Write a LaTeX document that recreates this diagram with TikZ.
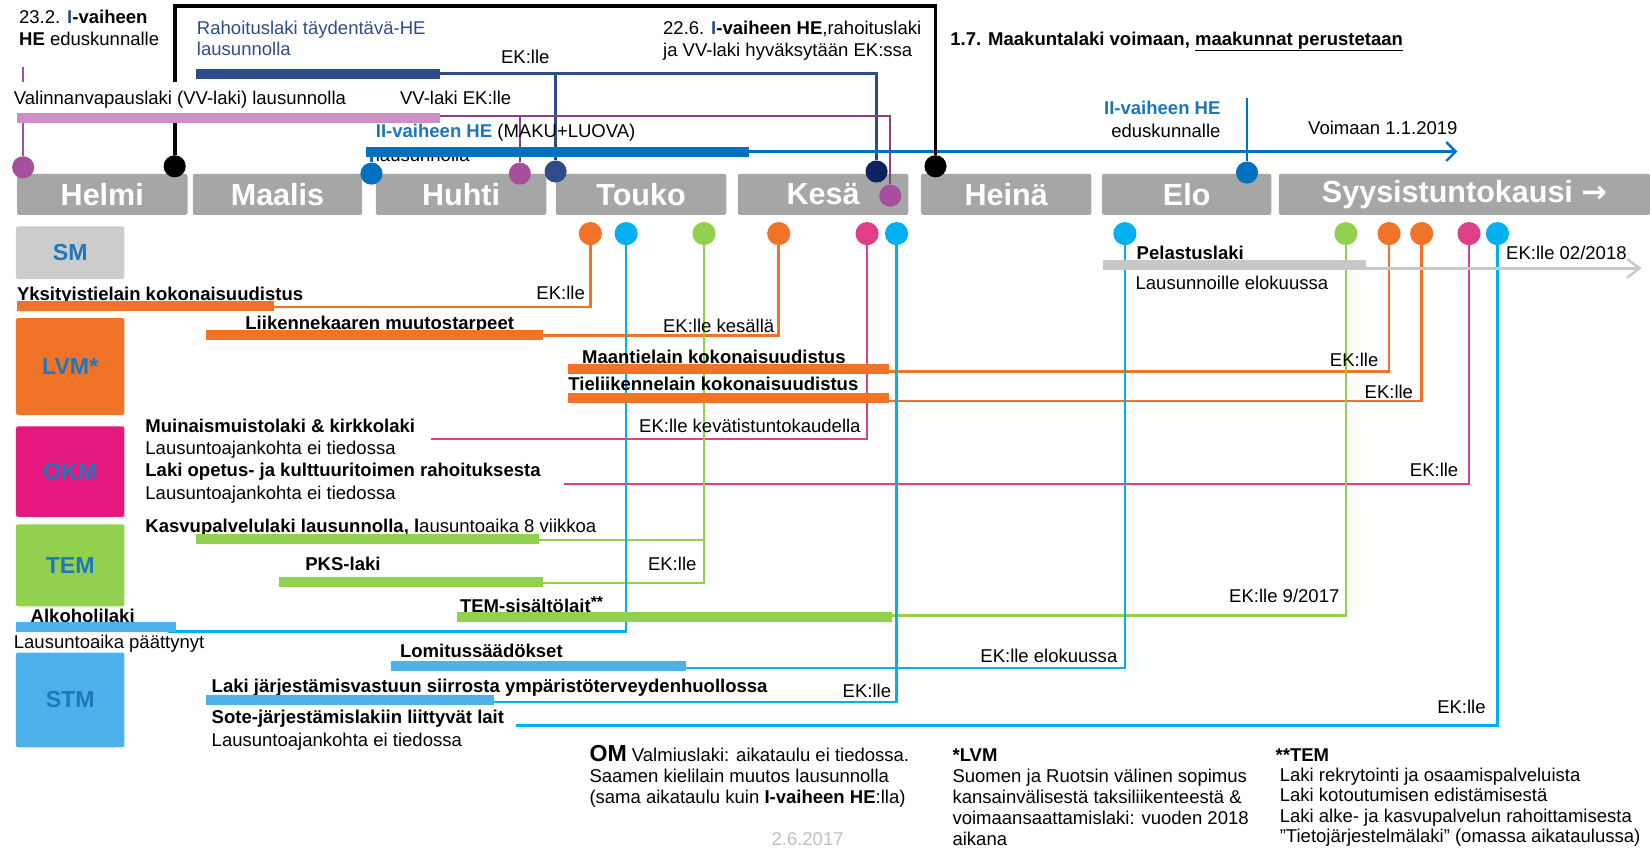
\documentclass[tikz,border=0pt]{standalone}
\usepackage{fontspec}
\setmainfont{Liberation Sans}
\newfontfamily\symfont{DejaVu Sans}
\usetikzlibrary{arrows.meta}

\definecolor{monthgray}{HTML}{A6A6A6}
\definecolor{minblue}{HTML}{1F77BC}
\definecolor{hetext}{HTML}{1C75BC}
\definecolor{navybar}{HTML}{2F4C8A}
\definecolor{navydark}{HTML}{0E2260}
\definecolor{palepink}{HTML}{CC8EC4}
\definecolor{plum}{HTML}{8E3F82}
\definecolor{plumdot}{HTML}{A64F9C}
\definecolor{heblue}{HTML}{0070C0}
\definecolor{lvmorange}{HTML}{F07327}
\definecolor{okmpink}{HTML}{E5197F}
\definecolor{magline}{HTML}{DF3F87}
\definecolor{temgreen}{HTML}{92D050}
\definecolor{stmblue}{HTML}{4DB2EC}
\definecolor{cyanline}{HTML}{00B0F0}
\definecolor{smgray}{HTML}{CCCCCC}
\definecolor{pelgray}{HTML}{C8C8C8}
\definecolor{dategray}{HTML}{BFBFBF}

\tikzset{
  month/.style={anchor=north west, fill=monthgray, text=white, rounded corners=2pt, minimum height=39pt, inner sep=0pt, font=\bfseries\fontsize{29}{30}\selectfont},
  ministry/.style={anchor=north west, minimum width=103pt, rounded corners=2pt, inner sep=0pt, text=minblue, font=\bfseries\fontsize{22}{24}\selectfont},
  dot/.style={circle, fill=#1, minimum size=21pt, inner sep=0pt},
  txt/.style={anchor=base west, inner sep=0pt, font=\fontsize{17.6}{20}\selectfont},
  law/.style={txt, font=\bfseries\fontsize{17.6}{20}\selectfont},
  ek/.style={anchor=base east, inner sep=0pt, font=\fontsize{17.6}{20}\selectfont},
  bar/.style={line width=9.5pt, #1},
  link/.style={line width=2.3pt, #1},
}

\begin{document}
\begin{tikzpicture}[x=1pt, y=-1pt]
\useasboundingbox (0,0) rectangle (1568,805);

% kuukaudet
\node[month, minimum width=162pt] (helmi) at (16,165) {Helmi};
\node[month, minimum width=161pt] (maalis) at (183,165) {Maalis};
\node[month, minimum width=162pt] (huhti) at (357,165) {Huhti};
\node[month, minimum width=162pt] (touko) at (528,165) {Touko};
\node[month, minimum width=162pt] (kesa) at (701,165) {Kesä};
\node[month, minimum width=162pt] (heina) at (875,165) {Heinä};
\node[month, minimum width=161pt] (elo) at (1047,165) {Elo};
\node[month, minimum width=353pt] (syys) at (1215,165) {Syysistuntokausi {\symfont\bfseries →}};

% ministeriot
\node[ministry, fill=smgray, minimum height=50pt] (sm) at (15,215) {SM};
\node[ministry, fill=lvmorange, minimum height=92pt] (lvm) at (15,302) {LVM*};
\node[ministry, fill=okmpink, minimum height=86pt] (okm) at (15,405) {OKM};
\node[ministry, fill=temgreen, minimum height=78pt] (tem) at (15,498) {TEM};
\node[ministry, fill=stmblue, minimum height=90pt] (stm) at (15,620) {STM};

% pallot ylhaalla
\node[dot=plumdot] (dVVa) at (22,159) {};
\node[dot=black] (dHEa) at (166,158) {};
\node[dot=heblue] (dMaku) at (353,165) {};
\node[dot=plumdot] (dVVb) at (494,165) {};
\node[dot=navybar] (dRaha) at (528,163) {};
\node[dot=navydark] (dRahb) at (833,163) {};
\node[dot=plumdot] (dVVc) at (846,186) {};
\node[dot=black] (dHEb) at (889,158) {};
\node[dot=heblue] (dHEc) at (1185,164) {};

% pallot kuukausien alla
\tikzset{dot/.append style={minimum size=22pt}}
\node[dot=lvmorange] (dYks) at (561,222) {};
\node[dot=cyanline] (dAlko) at (595,222) {};
\node[dot=temgreen] (dKasvu) at (669,222) {};
\node[dot=lvmorange] (dLiik) at (740,222) {};
\node[dot=magline] (dMuin) at (824,222) {};
\node[dot=cyanline] (dYmpa) at (852,222) {};
\node[dot=cyanline] (dLomi) at (1069,222) {};
\node[dot=temgreen] (dTemS) at (1279,222) {};
\node[dot=lvmorange] (dMaan) at (1320,222) {};
\node[dot=lvmorange] (dTiel) at (1351,222) {};
\node[dot=magline] (dOpet) at (1396,222) {};
\node[dot=cyanline] (dSote) at (1423,222) {};

% ylaosan viivat
\coordinate (rahEnd) at (418,70);
\draw[link=navybar] (rahEnd) -| (dRahb);
\draw[link=navybar] (dRaha) -- (dRaha |- rahEnd);
\coordinate (vvEnd) at (410,110);
\coordinate (vvTick) at (22,64);
\draw[link=plum] (vvEnd) -| (dVVc);
\draw[link=plum] (dVVb) -- (dVVb |- vvEnd);
\draw[link=plumdot] (dVVa) -- (vvTick);
\coordinate (makuEnd) at (712,144);
\coordinate (voimaan) at (1385,144);
\coordinate (heTop) at (1185,93);
\draw[link=heblue, -{Straight Barb[length=9pt,width=18pt]}] (makuEnd) -- (voimaan);
\draw[link=heblue] (dMaku) -- (dMaku |- makuEnd);
\draw[link=heblue] (heTop) -- (dHEc);
\coordinate (frameTop) at (0,6);
\draw[line width=3.5pt] (dHEa) |- (frameTop -| dHEb) -- (dHEb);

% lakien viivat
\coordinate (yksEnd) at (260,292);
\coordinate (liikEnd) at (516,319);
\coordinate (maanEnd) at (845,353);
\coordinate (tielEnd) at (845,381);
\coordinate (muinStart) at (410,417);
\coordinate (opetStart) at (536,460);
\coordinate (kasvuEnd) at (512,513);
\coordinate (pksEnd) at (516,554);
\coordinate (temEnd) at (848,585);
\coordinate (alkoEnd) at (160,600);
\coordinate (lomiEnd) at (652,635);
\coordinate (ympaEnd) at (469,667);
\coordinate (soteStart) at (490,689);
\coordinate (pelEnd) at (1290,255);
\coordinate (pelArrow) at (1560,255);
\draw[link=lvmorange] (yksEnd) -| (dYks);
\draw[link=lvmorange] (liikEnd) -| (dLiik);
\draw[link=lvmorange] (maanEnd) -| (dMaan);
\draw[link=lvmorange] (tielEnd) -| (dTiel);
\draw[link=magline] (muinStart) -| (dMuin);
\draw[link=magline] (opetStart) -| (dOpet);
\draw[link=temgreen] (kasvuEnd) -| (dKasvu);
\draw[link=temgreen] (pksEnd) -| (dKasvu);
\draw[link=temgreen] (temEnd) -| (dTemS);
\draw[link=cyanline] (alkoEnd) -| (dAlko);
\draw[link=cyanline] (lomiEnd) -| (dLomi);
\draw[link=cyanline] (ympaEnd) -| (dYmpa);
\draw[link=cyanline, line width=2.8pt] (soteStart) -| (dSote);
\draw[link=pelgray, -{Straight Barb[length=12pt,width=18pt]}] (pelEnd) -- (pelArrow);

% tekstit ylhaalla
\node[txt] (t23a) at (18,22) {23.2. \textbf{\textcolor{navybar}{I}-vaiheen}};
\node[txt] (t23b) at (18,43) {\textbf{HE} eduskunnalle};
\node[txt, text=navybar] (tRaha) at (187,33) {Rahoituslaki täydentävä-HE};
\node[txt, text=navybar] (tRahb) at (187,53) {lausunnolla};
\node[txt] (tRahEk) at (476,60) {EK:lle};
\node[txt] (t226a) at (630,33) {22.6. \textbf{\textcolor{navybar}{I}-vaiheen HE},rahoituslaki};
\node[txt] (t226b) at (630,54) {ja VV-laki hyväksytään EK:ssa};
\node[law] (t17) at (903,43) {1.7. Maakuntalaki voimaan, \underline{maakunnat perustetaan}};
\node[txt, fill=white, inner xsep=1pt, inner ysep=8pt] (tVV) at (12,99) {Valinnanvapauslaki (VV-laki) lausunnolla};
\node[txt] (tVVek) at (380,99) {VV-laki EK:lle};
\node[txt] (tMaku) at (357,131) {\textcolor{hetext}{\textbf{II-vaiheen HE}} (MAKU+LUOVA)};
\node[txt] (tMakub) at (357,153) {lausunnolla};
\node[ek] (tHEc) at (1160,109) {\textcolor{hetext}{\textbf{II-vaiheen HE}}};
\node[ek] (tHEd) at (1160,131) {eduskunnalle};
\node[txt] (tVoim) at (1243,128) {Voimaan 1.1.2019};

% tekstit riveilla
\node[law] (tYks) at (16,286) {Yksityistielain kokonaisuudistus};
\node[ek] (tYksEk) at (556,285) {EK:lle};
\node[law] (tLiik) at (233,313) {Liikennekaaren muutostarpeet};
\node[ek] (tLiikEk) at (736,316) {EK:lle kesällä};
\node[law] (tMaan) at (553,345) {Maantielain kokonaisuudistus};
\node[ek] (tMaanEk) at (1310,348) {EK:lle};
\node[law] (tTiel) at (540,371) {Tieliikennelain kokonaisuudistus};
\node[ek] (tTielEk) at (1343,379) {EK:lle};
\node[law] (tMuin) at (138,411) {Muinaismuistolaki \& kirkkolaki};
\node[txt] (tMuinb) at (138,432) {Lausuntoajankohta ei tiedossa};
\node[ek] (tMuinEk) at (818,411) {EK:lle kevätistuntokaudella};
\node[law] (tOpet) at (138,453) {Laki opetus- ja kulttuuritoimen rahoituksesta};
\node[txt] (tOpetb) at (138,475) {Lausuntoajankohta ei tiedossa};
\node[ek] (tOpetEk) at (1386,453) {EK:lle};
\node[txt] (tKasvu) at (138,506) {\textbf{Kasvupalvelulaki lausunnolla, l}ausuntoaika 8 viikkoa};
\node[law] (tPks) at (290,542) {PKS-laki};
\node[ek] (tPksEk) at (662,542) {EK:lle};
\node[law] (tTemS) at (437,582) {TEM-sisältölait\raisebox{5pt}{\fontsize{15}{15}\selectfont**}};
\node[ek] (tTemSEk) at (1273,573) {EK:lle 9/2017};
\node[law] (tAlko) at (29,592) {Alkoholilaki};
\node[txt] (tAlkob) at (13,616) {Lausuntoaika päättynyt};
\node[law] (tLomi) at (380,625) {Lomitussäädökset};
\node[ek] (tLomiEk) at (1062,630) {EK:lle elokuussa};
\node[law] (tYmpa) at (201,658) {Laki järjestämisvastuun siirrosta ympäristöterveydenhuollossa};
\node[ek] (tYmpaEk) at (847,663) {EK:lle};
\node[law] (tSote) at (201,688) {Sote-järjestämislakiin liittyvät lait};
\node[txt] (tSoteb) at (201,709) {Lausuntoajankohta ei tiedossa};
\node[ek] (tSoteEk) at (1412,678) {EK:lle};
\node[law] (tPel) at (1080,247) {Pelastuslaki};
\node[ek] (tPelEk) at (1546,247) {EK:lle 02/2018};
\node[txt] (tPelb) at (1079,275) {Lausunnoille elokuussa};

% palkit
\draw[bar=navybar] (186,70) -- (418,70);
\draw[bar=palepink] (16,112) -- (418,112);
\draw[bar=heblue] (348,144) -- (712,144);
\draw[bar=lvmorange] (16,291) -- (260,291);
\draw[bar=lvmorange] (196,318) -- (516,318);
\draw[bar=lvmorange] (540,351) -- (845,351);
\draw[bar=lvmorange] (540,378) -- (845,378);
\draw[bar=temgreen] (186,512) -- (512,512);
\draw[bar=temgreen] (265,553) -- (516,553);
\draw[bar=temgreen] (434,586) -- (848,586);
\draw[bar=stmblue] (15,596) -- (167,596);
\draw[bar=stmblue] (372,633) -- (652,633);
\draw[bar=stmblue] (196,665) -- (469,665);
\draw[bar=pelgray] (1048,252) -- (1298,252);

% alaviitteet
\node[txt, anchor=north west, align=left] (omNote) at (560,708) {{\bfseries\fontsize{22}{20}\selectfont OM} Valmiuslaki: aikataulu ei tiedossa.\\Saamen kielilain muutos lausunnolla\\(sama aikataulu kuin \textbf{I-vaiheen HE}:lla)};
\node[txt, anchor=north west, align=left] (lvmNote) at (905,711) {\textbf{*LVM}\\Suomen ja Ruotsin välinen sopimus\\kansainvälisestä taksiliikenteestä \&\\voimaansaattamislaki: vuoden 2018\\aikana};
\node[txt, anchor=north west, align=left, font=\fontsize{17.6}{19.3}\selectfont] (temNote) at (1212,711) {\textbf{**TEM}\\\hspace*{4pt}Laki rekrytointi ja osaamispalveluista\\\hspace*{4pt}Laki kotoutumisen edistämisestä\\\hspace*{4pt}Laki alke- ja kasvupalvelun rahoittamisesta\\\hspace*{4pt}”Tietojärjestelmälaki” (omassa aikataulussa)};
\node[txt, text=dategray] (date) at (733,803) {2.6.2017};
\end{tikzpicture}
\end{document}
